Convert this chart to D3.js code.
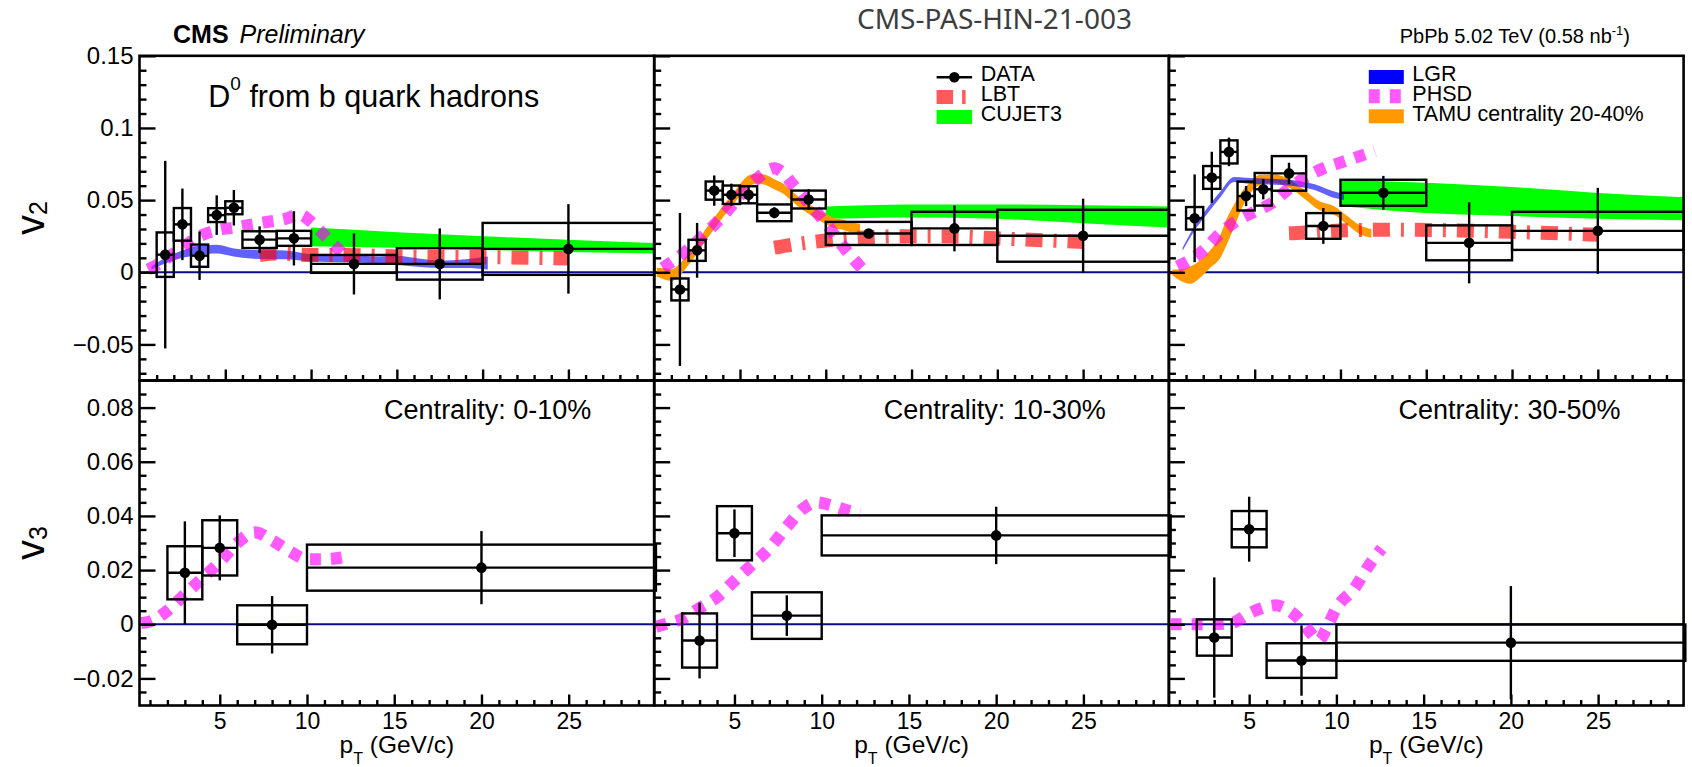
<!DOCTYPE html>
<html lang="en">
<head>
<meta charset="UTF-8">
<script src="https://cdn.jsdelivr.net/npm/d3@7"></script>
<title>D0 from b hadrons v2 v3</title>
<style>
  body { margin: 0; background: #fff; }
  svg { display: block; font-family: "Liberation Sans", Arial, sans-serif; }
</style>
</head>
<body>
<svg></svg>
<script>
const width = 1692;
const height = 767;
const panelLeft = 139.5;
const panelW = 514.7;
const topY0 = 55.8;
const topY1 = 380.5;
const botY1 = 705.5;

// ---- data points ----
const centralities = ['0-10%', '10-30%', '30-50%'];

const v2BinLo = [1, 2, 3, 4, 5, 6, 8, 10, 15, 20];
const v2BinHi = [2, 3, 4, 5, 6, 8, 10, 15, 20, 30];
const v2Pt = [1.5, 2.5, 3.5, 4.5, 5.5, 7, 9, 12.5, 17.5, 25];
const v2Val = [
  [0.0122, 0.0332, 0.0115, 0.0396, 0.0447, 0.0226, 0.0235, 0.0058, 0.0058, 0.0162],
  [-0.0119, 0.0152, 0.0566, 0.0537, 0.0537, 0.0412, 0.0504, 0.0269, 0.0304, 0.0253],
  [0.0374, 0.0657, 0.0834, 0.0528, 0.0575, 0.0685, 0.0321, 0.0551, 0.0204, 0.0287]
];
const v2Stat = [
  [0.065, 0.0248, 0.0168, 0.0137, 0.0123, 0.0092, 0.0188, 0.0212, 0.0246, 0.031],
  [0.053, 0.019, 0.0105, 0.0077, 0.0065, 0.0038, 0.0072, 0.0031, 0.0159, 0.0257],
  [0.0304, 0.0178, 0.0099, 0.007, 0.007, 0.0074, 0.0124, 0.0117, 0.0281, 0.0298]
];
const v2Sys = [
  [0.0154, 0.0113, 0.0077, 0.0048, 0.0045, 0.0058, 0.0052, 0.0062, 0.0109, 0.018],
  [0.0076, 0.0073, 0.0063, 0.0064, 0.0059, 0.0058, 0.0062, 0.008, 0.0115, 0.018],
  [0.0078, 0.0079, 0.008, 0.01, 0.0113, 0.012, 0.0089, 0.009, 0.0121, 0.0132]
];

const v3BinLo = [2, 4, 6, 10];
const v3BinHi = [4, 6, 10, 30];
const v3Pt = [3, 5, 8, 20];
const v3Val = [
  [0.019, 0.0282, -0.0002, 0.0209],
  [-0.006, 0.0336, 0.0032, 0.0328],
  [-0.0049, 0.0351, -0.0134, -0.0068]
];
const v3Stat = [
  [0.019, 0.012, 0.0106, 0.0135],
  [0.014, 0.0088, 0.0075, 0.0106],
  [0.0222, 0.012, 0.013, 0.0209]
];
const v3Sys = [
  [0.0098, 0.0102, 0.0072, 0.0085],
  [0.01, 0.01, 0.0086, 0.0074],
  [0.0067, 0.0067, 0.0064, 0.0067]
];

// ---- models ----
// LGR (bands), panels 0-10% and 30-50%
const lgrPt010 = [0.7, 1.5, 2.5, 3.5, 4.5, 5.5, 6.5, 7.5, 8.5, 10, 12, 14, 15, 16, 17.5, 19, 20.3];
const lgrLo010 = [0.002, 0.006, 0.010, 0.012, 0.013, 0.011, 0.0095, 0.009, 0.009, 0.0075, 0.007, 0.006, 0.005, 0.004, 0.003, 0.003, 0.002];
const lgrHi010 = [0.004, 0.010, 0.015, 0.0185, 0.019, 0.0165, 0.0155, 0.0152, 0.015, 0.0125, 0.012, 0.011, 0.0115, 0.010, 0.008, 0.009, 0.011];
const lgrPt3050 = [0.8, 1.5, 2.2, 3.0, 3.8, 4.5, 5.5, 6.5, 7.5, 8.5, 9.5, 10.2];
const lgrLo3050 = [0.015, 0.029, 0.040, 0.052, 0.0625, 0.0615, 0.061, 0.0605, 0.0595, 0.057, 0.052, 0.050];
const lgrHi3050 = [0.017, 0.032, 0.044, 0.056, 0.066, 0.0655, 0.065, 0.0645, 0.0635, 0.061, 0.0565, 0.054];

// TAMU (bands), panels 10-30% and 30-50%
const tamuPt1030 = [0.15, 0.6, 1.0, 1.5, 2.0, 2.5, 3.0, 3.5, 4.0, 4.5, 5.0, 5.5, 6.0, 6.5, 7.0, 7.5, 8.0, 8.5, 9.0, 9.5, 10.0, 10.5, 11.0, 11.5, 12.0];
const tamuLo1030 = [-0.003, -0.005, -0.006, -0.002, 0.005, 0.013, 0.022, 0.030, 0.038, 0.045, 0.053, 0.059, 0.0615, 0.0605, 0.0575, 0.0545, 0.0495, 0.0445, 0.0405, 0.0365, 0.0335, 0.0305, 0.0295, 0.0275, 0.0265];
const tamuHi1030 = [0.003, 0.003, 0.002, 0.006, 0.013, 0.021, 0.030, 0.038, 0.046, 0.053, 0.061, 0.067, 0.0685, 0.0675, 0.0645, 0.0615, 0.0565, 0.0515, 0.0475, 0.0435, 0.0405, 0.0375, 0.0365, 0.0345, 0.0335];
const tamuPt3050 = [0.2, 0.7, 1.25, 1.8, 2.4, 3.0, 3.4, 3.8, 4.2, 4.7, 5.3, 6.1, 7.1, 7.9, 8.8, 9.6, 10.4, 11.2, 11.8];
const tamuLo3050 = [-0.002, -0.006, -0.008, -0.004, 0.003, 0.010, 0.020, 0.031, 0.043, 0.054, 0.0605, 0.062, 0.058, 0.051, 0.043, 0.040, 0.033, 0.026, 0.024];
const tamuHi3050 = [0.002, 0.002, 0.004, 0.008, 0.015, 0.026, 0.038, 0.047, 0.055, 0.062, 0.0675, 0.068, 0.064, 0.057, 0.049, 0.046, 0.039, 0.032, 0.030];

// CUJET3 (bands), all three panels
const cujetPt = [10, 15, 20, 25, 30];
const cujetLo = [
  [0.018, 0.017, 0.0155, 0.014, 0.013],
  [0.037, 0.038, 0.037, 0.034, 0.031],
  [0.046, 0.041, 0.039, 0.037, 0.036]
];
const cujetHi = [
  [0.031, 0.0278, 0.025, 0.0225, 0.0203],
  [0.0455, 0.047, 0.047, 0.0465, 0.0456],
  [0.064, 0.062, 0.059, 0.055, 0.052]
];

// LBT (dash-dot lines)
const lbtPt = [
  [7, 8, 10, 12, 15, 20, 25],
  [7, 8, 10, 12, 15, 17, 20, 25],
  [7, 8, 10, 13, 17, 20, 25]
];
const lbtV2 = [
  [0.012, 0.013, 0.012, 0.012, 0.011, 0.0105, 0.0095],
  [0.017, 0.019, 0.022, 0.024, 0.025, 0.025, 0.0235, 0.021],
  [0.027, 0.0275, 0.029, 0.0295, 0.029, 0.028, 0.026]
];

// PHSD (dashed lines), v2 and v3
const phsdV2Pt = [
  [0.5, 1, 1.5, 2.5, 3.5, 4.5, 5.5, 6.5, 7.5, 8.5, 9.3, 10.0, 10.5, 11.0, 11.5, 12.2],
  [0.5, 1, 2, 3, 4, 5, 6, 7, 7.5, 8, 9, 10, 11, 12, 12.4],
  [0.5, 1, 2, 3, 4, 5, 6, 7, 8, 9, 10, 11, 12]
];
const phsdV2 = [
  [0.002, 0.005, 0.009, 0.017, 0.025, 0.029, 0.031, 0.033, 0.035, 0.037, 0.040, 0.035, 0.029, 0.023, 0.017, 0.009],
  [0.003, 0.007, 0.016, 0.027, 0.039, 0.053, 0.065, 0.072, 0.069, 0.062, 0.048, 0.034, 0.018, 0.004, -0.001],
  [0.004, 0.007, 0.015, 0.027, 0.036, 0.042, 0.048, 0.058, 0.066, 0.072, 0.076, 0.080, 0.084]
];
const phsdV3Pt = [
  [0.5, 1, 2, 3, 4, 5, 6, 7, 8, 9, 10, 11, 12.3],
  [0.5, 1, 2, 3, 4, 5, 6, 7, 8, 9, 9.7, 10.5, 11.5, 12.2],
  [0.5, 2, 3, 4, 5, 6, 6.5, 7.3, 8, 8.5, 9.0, 9.4, 10, 11, 12, 12.6]
];
const phsdV3 = [
  [0.0005, 0.001, 0.005, 0.011, 0.017, 0.023, 0.030, 0.034, 0.031, 0.027, 0.024, 0.024, 0.025],
  [-0.001, 0.0, 0.002, 0.006, 0.010, 0.016, 0.022, 0.028, 0.036, 0.043, 0.045, 0.044, 0.042, 0.041],
  [0.0, 0.0, 0.0, 0.0005, 0.004, 0.0065, 0.007, 0.005, 0.001, -0.003, -0.006, -0.002, 0.006, 0.013, 0.023, 0.028]
];

// ---- axes ----
const v2Ticks = [-0.05, 0, 0.05, 0.1, 0.15];
const v2TickLabels = ['\u22120.05', '0', '0.05', '0.1', '0.15'];
const v3Ticks = [-0.02, 0, 0.02, 0.04, 0.06, 0.08];
const v3TickLabels = ['\u22120.02', '0', '0.02', '0.04', '0.06', '0.08'];
const ptTicks = [5, 10, 15, 20, 25];
const ptTickLabels = ['5', '10', '15', '20', '25'];

const colors = {
  lgr: '#0000ff', phsd: '#ff00ff', lbt: '#ff0000',
  tamu: '#ff9900', cujet: '#00ff00', zero: '#0a0a8c'
};

const svg = d3.select('svg').attr('width', width).attr('height', height);
svg.append('rect').attr('width', width).attr('height', height).attr('fill', '#fff');

const xTop = d3.scaleLinear().domain([0, 30]).range([0, panelW]);
const xBot = d3.scaleLinear().domain([0.4, 29.9]).range([0, panelW]);
const yTop = d3.scaleLinear().domain([-0.075, 0.15]).range([topY1 - topY0, 0]);
const yBot = d3.scaleLinear().domain([-0.03, 0.09]).range([botY1 - topY1, 0]);

const zip3 = (pt, lo, hi) => pt.map((p, k) => ({ pt: p, lo: lo[k], hi: hi[k] }));
const zip2 = (pt, v) => pt.map((p, k) => ({ pt: p, v: v[k] }));

const defs = svg.append('defs');

function band(layer, x, y, rows, fill, opacity) {
  layer.append('path')
    .datum(rows)
    .attr('d', d3.area().x(d => x(d.pt)).y0(d => y(d.lo)).y1(d => y(d.hi)).curve(d3.curveMonotoneX))
    .attr('fill', fill)
    .attr('fill-opacity', opacity);
}

function curve(layer, x, y, rows, color, w, dash, opacity) {
  layer.append('path')
    .datum(rows)
    .attr('d', d3.line().x(d => x(d.pt)).y(d => y(d.v)).curve(d3.curveMonotoneX))
    .attr('fill', 'none')
    .attr('stroke', color)
    .attr('stroke-opacity', opacity)
    .attr('stroke-width', w)
    .attr('stroke-dasharray', dash);
}

function paintData(layer, x, y, pt, lo, hi, val, stat, sys) {
  const g = layer.append('g').attr('stroke', '#000').attr('stroke-width', 2.4).attr('fill', 'none');
  pt.forEach((p, k) => {
    g.append('rect')
      .attr('x', x(lo[k])).attr('width', x(hi[k]) - x(lo[k]))
      .attr('y', y(val[k] + sys[k])).attr('height', y(val[k] - sys[k]) - y(val[k] + sys[k]));
    g.append('line')
      .attr('x1', x(lo[k])).attr('x2', x(hi[k]))
      .attr('y1', y(val[k])).attr('y2', y(val[k]));
    g.append('line')
      .attr('x1', x(p)).attr('x2', x(p))
      .attr('y1', y(val[k] - stat[k])).attr('y2', y(val[k] + stat[k]));
  });
  layer.append('g').selectAll('circle')
    .data(pt)
    .join('circle')
    .attr('cx', p => x(p))
    .attr('cy', (p, k) => y(val[k]))
    .attr('r', 5.3)
    .attr('fill', '#000');
}

function paintAxes(layer, x, y, h, yMajor, yMinor, yLabels, xLabels, showY) {
  const tick = sel => sel.call(s => s.select('.domain').remove())
    .selectAll('line').attr('stroke', '#000').attr('stroke-width', 2.4);
  layer.append('g').call(d3.axisRight(y).tickValues(yMajor).tickSize(16).tickFormat('')).call(tick);
  layer.append('g').call(d3.axisRight(y).tickValues(yMinor).tickSize(7).tickFormat('')).call(tick);
  const minorPt = d3.range(1, 30).filter(v => v % 5 !== 0);
  layer.append('g').attr('transform', `translate(0,${h})`)
    .call(d3.axisTop(x).tickValues(ptTicks).tickSize(11).tickFormat('')).call(tick);
  layer.append('g').attr('transform', `translate(0,${h})`)
    .call(d3.axisTop(x).tickValues(minorPt).tickSize(5.5).tickFormat('')).call(tick);
  if (showY) {
    const ax = layer.append('g')
      .call(d3.axisLeft(y).tickValues(yMajor).tickSize(0).tickPadding(6).tickFormat((d, i) => yLabels[i]));
    ax.select('.domain').remove();
    ax.attr('font-size', 24).attr('font-family', '"Liberation Sans", Arial, sans-serif');
    ax.selectAll('text').attr('fill', '#000');
  }
  if (xLabels) {
    const ax = layer.append('g').attr('transform', `translate(0,${h})`)
      .call(d3.axisBottom(x).tickValues(ptTicks).tickSize(0).tickPadding(7).tickFormat((d, i) => xLabels[i]));
    ax.select('.domain').remove();
    ax.attr('font-size', 23).attr('font-family', '"Liberation Sans", Arial, sans-serif');
    ax.selectAll('text').attr('fill', '#000');
  }
  layer.append('rect').attr('width', panelW).attr('height', h)
    .attr('fill', 'none').attr('stroke', '#000').attr('stroke-width', 2.6);
}

const v2Minor = d3.range(-7, 15).map(v => v / 100).filter(v => Math.abs(v * 20 - Math.round(v * 20)) > 1e-6);
const v3Minor = d3.range(-25, 90, 5).map(v => v / 1000).filter(v => Math.abs(v * 50 - Math.round(v * 50)) > 1e-6);

centralities.forEach((cent, i) => {
  const left = panelLeft + i * panelW;
  const hTop = topY1 - topY0;
  const hBot = botY1 - topY1;

  // ---- v2 panel ----
  const top = svg.append('g').attr('transform', `translate(${left},${topY0})`);
  defs.append('clipPath').attr('id', `clipTop${i}`)
    .append('rect').attr('width', panelW).attr('height', hTop);
  const mTop = top.append('g').attr('clip-path', `url(#clipTop${i})`);

  mTop.append('line').attr('x1', 0).attr('x2', panelW)
    .attr('y1', yTop(0)).attr('y2', yTop(0))
    .attr('stroke', colors.zero).attr('stroke-width', 2.2);

  band(mTop, xTop, yTop, zip3(cujetPt, cujetLo[i], cujetHi[i]), colors.cujet, 1);
  if (i === 1) band(mTop, xTop, yTop, zip3(tamuPt1030, tamuLo1030, tamuHi1030), colors.tamu, 1);
  if (i === 2) band(mTop, xTop, yTop, zip3(tamuPt3050, tamuLo3050, tamuHi3050), colors.tamu, 1);
  if (i === 0) band(mTop, xTop, yTop, zip3(lgrPt010, lgrLo010, lgrHi010), colors.lgr, 0.62);
  if (i === 2) band(mTop, xTop, yTop, zip3(lgrPt3050, lgrLo3050, lgrHi3050), colors.lgr, 0.62);
  curve(mTop, xTop, yTop, zip2(lbtPt[i], lbtV2[i]), colors.lbt, 14, '17,11,3,11', 0.65);
  curve(mTop, xTop, yTop, zip2(phsdV2Pt[i], phsdV2[i]), colors.phsd, 12, '11,10', 0.65);

  paintData(top, xTop, yTop, v2Pt, v2BinLo, v2BinHi, v2Val[i], v2Stat[i], v2Sys[i]);
  paintAxes(top, xTop, yTop, hTop, v2Ticks, v2Minor, v2TickLabels, null, i === 0);

  // ---- v3 panel ----
  const bot = svg.append('g').attr('transform', `translate(${left},${topY1})`);
  defs.append('clipPath').attr('id', `clipBot${i}`)
    .append('rect').attr('width', panelW).attr('height', hBot);
  const mBot = bot.append('g').attr('clip-path', `url(#clipBot${i})`);

  mBot.append('line').attr('x1', 0).attr('x2', panelW)
    .attr('y1', yBot(0)).attr('y2', yBot(0))
    .attr('stroke', colors.zero).attr('stroke-width', 2.2);
  curve(mBot, xBot, yBot, zip2(phsdV3Pt[i], phsdV3[i]), colors.phsd, 12, '11,10', 0.65);

  paintData(bot, xBot, yBot, v3Pt, v3BinLo, v3BinHi, v3Val[i], v3Stat[i], v3Sys[i]);
  paintAxes(bot, xBot, yBot, hBot, v3Ticks, v3Minor, v3TickLabels, ptTickLabels, i === 0);

  bot.append('text')
    .attr('x', panelW - 63).attr('y', 419.3 - topY1)
    .attr('text-anchor', 'end').attr('font-size', 27)
    .text(`Centrality: ${cent}`);

  const xt = bot.append('text')
    .attr('x', panelW / 2).attr('y', 753.3 - topY1)
    .attr('text-anchor', 'middle').attr('font-size', 24.5);
  xt.append('tspan').text('p');
  xt.append('tspan').attr('font-size', 16).attr('dy', 11).text('T');
  xt.append('tspan').attr('dy', -11).text(' (GeV/c)');
});

// ---- y titles ----
function yTitle(cy, sub) {
  const t = svg.append('text')
    .attr('transform', `translate(44,${cy}) rotate(-90)`)
    .attr('text-anchor', 'middle').attr('font-size', 40);
  t.append('tspan').text('v');
  t.append('tspan').attr('font-size', 25).attr('dy', 3).text(sub);
}
yTitle((topY0 + topY1) / 2, '2');
yTitle((topY1 + botY1) / 2, '3');

// ---- header texts ----
const cms = svg.append('text').attr('x', 173).attr('y', 43.3).attr('font-size', 25);
cms.append('tspan').attr('font-weight', 'bold').text('CMS');
cms.append('tspan').attr('font-style', 'italic').attr('dx', 4).text(' Preliminary');

svg.append('text').attr('x', 857).attr('y', 28.5)
  .attr('font-family', '"Noto Sans", "Open Sans", sans-serif')
  .attr('font-size', 28).attr('fill', '#3d3d3d')
  .text('CMS-PAS-HIN-21-003');

const lumi = svg.append('text').attr('x', 1630).attr('y', 43.3)
  .attr('text-anchor', 'end').attr('font-size', 20);
lumi.append('tspan').text('PbPb 5.02 TeV (0.58 nb');
lumi.append('tspan').attr('font-size', 13).attr('dy', -8).text('-1');
lumi.append('tspan').attr('dy', 8).text(')');

const dlab = svg.append('text').attr('x', 208.3).attr('y', 106.7).attr('font-size', 30.5);
dlab.append('tspan').text('D');
dlab.append('tspan').attr('font-size', 19).attr('dy', -16.5).text('0');
dlab.append('tspan').attr('dy', 16.5).text(' from b quark hadrons');

// ---- legends ----
function legendText(x, y, label) {
  svg.append('text').attr('x', x).attr('y', y).attr('font-size', 21.5).text(label);
}
const lg2 = { x0: 936.6, x1: 972.1, tx: 980.7 };
svg.append('line').attr('x1', lg2.x0).attr('x2', lg2.x1).attr('y1', 77.3).attr('y2', 77.3)
  .attr('stroke', '#000').attr('stroke-width', 2.4);
svg.append('circle').attr('cx', (lg2.x0 + lg2.x1) / 2).attr('cy', 77.3).attr('r', 5.3).attr('fill', '#000');
legendText(lg2.tx, 80.8, 'DATA');
svg.append('line').attr('x1', lg2.x0).attr('x2', lg2.x1).attr('y1', 97).attr('y2', 97)
  .attr('stroke', colors.lbt).attr('stroke-opacity', 0.65).attr('stroke-width', 14)
  .attr('stroke-dasharray', '16.5,9,3.5,12');
legendText(lg2.tx, 100.8, 'LBT');
svg.append('rect').attr('x', lg2.x0).attr('width', lg2.x1 - lg2.x0).attr('y', 110).attr('height', 14)
  .attr('fill', colors.cujet);
legendText(lg2.tx, 120.8, 'CUJET3');

const lg3 = { x0: 1368.8, x1: 1403.8, tx: 1412.3 };
svg.append('rect').attr('x', lg3.x0).attr('width', lg3.x1 - lg3.x0).attr('y', 70).attr('height', 14)
  .attr('fill', colors.lgr);
legendText(lg3.tx, 80.8, 'LGR');
svg.append('line').attr('x1', lg3.x0).attr('x2', lg3.x1).attr('y1', 96.3).attr('y2', 96.3)
  .attr('stroke', colors.phsd).attr('stroke-opacity', 0.65).attr('stroke-width', 14)
  .attr('stroke-dasharray', '11,10');
legendText(lg3.tx, 100.8, 'PHSD');
svg.append('rect').attr('x', lg3.x0).attr('width', lg3.x1 - lg3.x0).attr('y', 109.3).attr('height', 14)
  .attr('fill', colors.tamu);
legendText(lg3.tx, 120.8, 'TAMU centrality 20-40%');
</script>
</body>
</html>
